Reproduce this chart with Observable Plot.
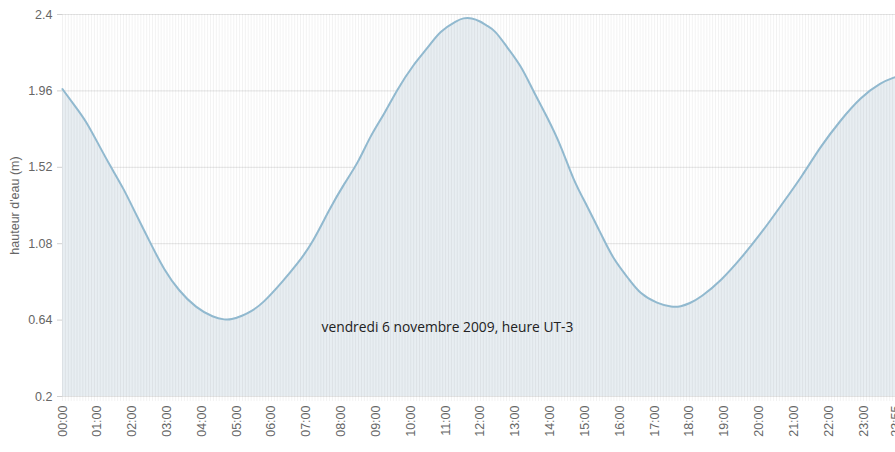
<!DOCTYPE html>
<html><head><meta charset="utf-8">
<script src="https://cdn.jsdelivr.net/npm/d3@7"></script>
<script src="https://cdn.jsdelivr.net/npm/@observablehq/plot@0.6"></script>
<style>
html,body{margin:0;padding:0;background:#fff;overflow:hidden;}
#wrap{position:relative;width:895px;height:452px;overflow:hidden;}
#caption{position:absolute;left:0;width:895px;top:317px;text-align:center;font-family:"Open Sans",sans-serif;font-size:13.8px;color:#222;}
</style></head><body><div id="wrap"><div id="caption"></div></div>
<script>
const times = ["00:00","00:20","00:40","01:00","01:20","01:45","02:05","02:35","02:55","03:20","03:50","04:20","04:40","04:50","05:10","05:25","05:45","06:20","06:45","07:10","07:40","08:05","08:30","08:50","09:15","09:35","10:05","10:30","10:50","11:20","11:30","11:45","12:00","12:10","12:25","12:45","13:10","13:30","13:55","14:20","14:40","15:05","15:30","15:50","16:15","16:35","17:05","17:30","17:45","18:00","18:20","18:55","19:30","20:05","20:40","21:15","21:45","22:20","22:55","23:30","23:55"];
const heights = [1.97,1.88,1.79,1.665,1.54,1.40,1.26,1.06,0.93,0.81,0.71,0.655,0.642,0.642,0.665,0.69,0.735,0.865,0.965,1.08,1.28,1.425,1.55,1.70,1.83,1.96,2.115,2.21,2.305,2.365,2.38,2.381,2.36,2.337,2.31,2.215,2.105,1.965,1.81,1.635,1.445,1.29,1.12,0.985,0.88,0.79,0.735,0.714,0.718,0.735,0.772,0.868,1.00,1.146,1.31,1.473,1.636,1.79,1.924,2.01,2.04];
const yTicks = [0.2,0.64,1.08,1.52,1.96,2.4];
const xTickLabels = ["00:00","01:00","02:00","03:00","04:00","05:00","06:00","07:00","08:00","09:00","10:00","11:00","12:00","13:00","14:00","15:00","16:00","17:00","18:00","19:00","20:00","21:00","22:00","23:00","23:55"];
const caption = "vendredi 6 novembre 2009, heure UT-3";
const yLabel = "hauteur d'eau (m)";

const toMin = s => (+s.slice(0,2))*60 + (+s.slice(3));
const data = times.map((t,i) => ({t: toMin(t), v: heights[i]}));
const xTicks = xTickLabels.map(toMin);
const gridStep = 5;
const grid = d3.range(0, toMin(times[times.length-1]) + 1, gridStep);
const fmt = m => String(Math.floor(m/60)).padStart(2,"0") + ":" + String(m%60).padStart(2,"0");

const chart = Plot.plot({
  width: 895,
  height: 452,
  marginTop: 14,
  marginBottom: 56,
  marginLeft: 62,
  marginRight: 0,
  style: {fontFamily: "'Liberation Sans', Arial, sans-serif", fontSize: "12.5px", background: "#fff"},
  x: {domain: [0, toMin(times[times.length-1])]},
  y: {domain: [yTicks[0], yTicks[yTicks.length-1]]},
  marks: [
    Plot.ruleY(yTicks, {stroke: "#e4e4e4"}),
    Plot.areaY(data, {x: "t", y1: yTicks[0], y2: "v", fill: "#e8eef2", curve: "basis"}),
    Plot.ruleX(grid, {stroke: "#000", strokeOpacity: 0.05, insetBottom: -5}),
    Plot.lineY(data, {x: "t", y: "v", stroke: "#91b9cf", strokeWidth: 2, curve: "basis"}),
    Plot.axisY({ticks: yTicks, tickFormat: d => String(d), tickSize: 5, tickPadding: 5, stroke: "#d0d0d0", fill: "#666", label: yLabel, labelArrow: false, labelAnchor: "center", labelOffset: 52}),
    Plot.axisX({ticks: xTicks, tickFormat: fmt, tickSize: 0, tickPadding: 9, tickRotate: -90, fill: "#666", label: null, fontSize: 12.5})
  ]
});
const wrap = document.getElementById("wrap");
wrap.prepend(chart);
document.getElementById("caption").textContent = caption;
</script>
</body></html>
